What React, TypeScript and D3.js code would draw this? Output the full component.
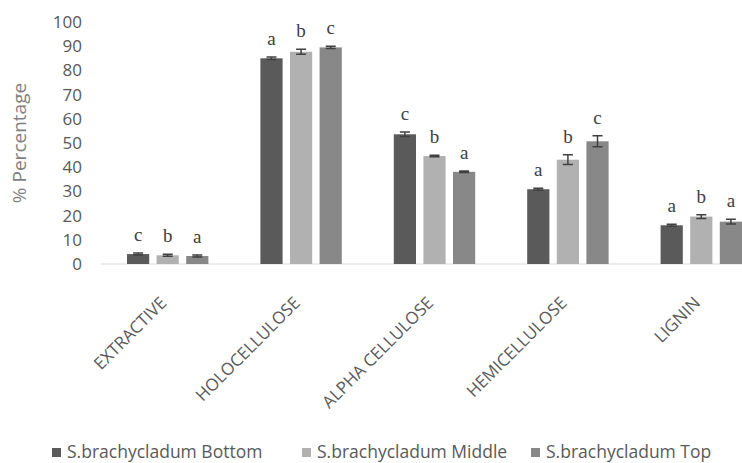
import React, { useRef, useEffect } from 'react';
import * as d3 from 'd3';

const categories = ['EXTRACTIVE', 'HOLOCELLULOSE', 'ALPHA CELLULOSE', 'HEMICELLULOSE', 'LIGNIN'];
const seriesNames = ['S.brachycladum Bottom', 'S.brachycladum Middle', 'S.brachycladum Top'];
const bottomValues = [4.1, 85.0, 53.6, 30.9, 16.0];
const middleValues = [3.6, 87.7, 44.6, 43.1, 19.6];
const topValues = [3.3, 89.5, 38.1, 50.7, 17.5];
const bottomErrors = [0.4, 0.5, 0.9, 0.4, 0.4];
const middleErrors = [0.4, 1.0, 0.3, 2.0, 0.8];
const topErrors = [0.4, 0.5, 0.3, 2.3, 1.0];
const bottomLetters = ['c', 'a', 'c', 'a', 'a'];
const middleLetters = ['b', 'b', 'b', 'b', 'b'];
const topLetters = ['a', 'c', 'a', 'c', 'a'];
const yTicks = [0, 10, 20, 30, 40, 50, 60, 70, 80, 90, 100];

const colors = ['#5a5a5a', '#b1b1b1', '#888888'];

const App = () => {
  const ref = useRef<SVGSVGElement>(null);

  useEffect(() => {
    const svg = d3.select(ref.current);
    svg.selectAll('*').remove();

    const values = [bottomValues, middleValues, topValues];
    const errors = [bottomErrors, middleErrors, topErrors];
    const letters = [bottomLetters, middleLetters, topLetters];

    const x0 = d3.scaleBand().domain(categories).range([101, 768]).paddingInner(0).paddingOuter(0);
    const x1 = d3.scaleBand().domain(seriesNames).range([26, x0.bandwidth() - 26]).paddingInner(0.25);
    const y = d3.scaleLinear().domain([0, 100]).range([264, 22]);

    // y tick labels
    svg.append('g')
      .selectAll('text')
      .data(yTicks)
      .join('text')
      .attr('x', 82)
      .attr('y', d => y(d))
      .attr('dy', '0.35em')
      .attr('text-anchor', 'end')
      .attr('font-family', 'Open Sans, sans-serif')
      .attr('font-size', 17)
      .attr('fill', '#595959')
      .text(d => d);

    // axis title
    svg.append('text')
      .attr('transform', `translate(26,${y(50)}) rotate(-90)`)
      .attr('text-anchor', 'middle')
      .attr('font-family', 'Open Sans, sans-serif')
      .attr('font-size', 19)
      .attr('fill', '#7f7f7f')
      .text('% Percentage');

    // baseline
    svg.append('line')
      .attr('x1', 101).attr('x2', 742)
      .attr('y1', y(0)).attr('y2', y(0))
      .attr('stroke', '#d9d9d9')
      .attr('stroke-width', 1);

    const groups = svg.append('g')
      .selectAll('g')
      .data(categories)
      .join('g')
      .attr('transform', d => `translate(${x0(d)},0)`);

    seriesNames.forEach((s, si) => {
      groups.append('rect')
        .attr('x', x1(s)!)
        .attr('width', x1.bandwidth())
        .attr('y', (_, i) => y(values[si][i]))
        .attr('height', (_, i) => y(0) - y(values[si][i]))
        .attr('fill', colors[si]);

      const cx = x1(s)! + x1.bandwidth() / 2;
      groups.append('path')
        .attr('d', (_, i) => {
          const hi = y(values[si][i] + errors[si][i]);
          const lo = y(values[si][i] - errors[si][i]);
          return `M${cx - 5},${hi}H${cx + 5}M${cx},${hi}V${lo}M${cx - 5},${lo}H${cx + 5}`;
        })
        .attr('stroke', '#404040')
        .attr('stroke-width', 1.5)
        .attr('fill', 'none');

      groups.append('text')
        .attr('x', cx)
        .attr('y', (_, i) => y(values[si][i] + errors[si][i]) - 12)
        .attr('text-anchor', 'middle')
        .attr('font-family', 'Liberation Serif, serif')
        .attr('font-size', 19)
        .attr('fill', '#404040')
        .text((_, i) => letters[si][i]);
    });

    // category labels
    svg.append('g')
      .selectAll('text')
      .data(categories)
      .join('text')
      .attr('transform', d => `translate(${x0(d)! + x0.bandwidth() / 2},${y(0) + 40}) rotate(-45)`)
      .attr('text-anchor', 'end')
      .attr('font-family', 'Open Sans, sans-serif')
      .attr('font-size', 17)
      .attr('fill', '#595959')
      .text(d => d);

    // legend
    const legendX = [52, 302, 531];
    const legend = svg.append('g')
      .selectAll('g')
      .data(seriesNames)
      .join('g')
      .attr('transform', (_, i) => `translate(${legendX[i]},448)`);
    legend.append('rect')
      .attr('width', 9).attr('height', 9)
      .attr('fill', (_, i) => colors[i]);
    legend.append('text')
      .attr('x', 15)
      .attr('y', 10)
      .attr('font-family', 'Open Sans, sans-serif')
      .attr('font-size', 17.5)
      .attr('fill', '#595959')
      .text(d => d);
  }, []);

  return (
    <svg
      ref={ref}
      width={742}
      height={463}
      style={{ position: 'absolute', left: 0, top: 0, background: '#fff' }}
    />
  );
};

export default App;
